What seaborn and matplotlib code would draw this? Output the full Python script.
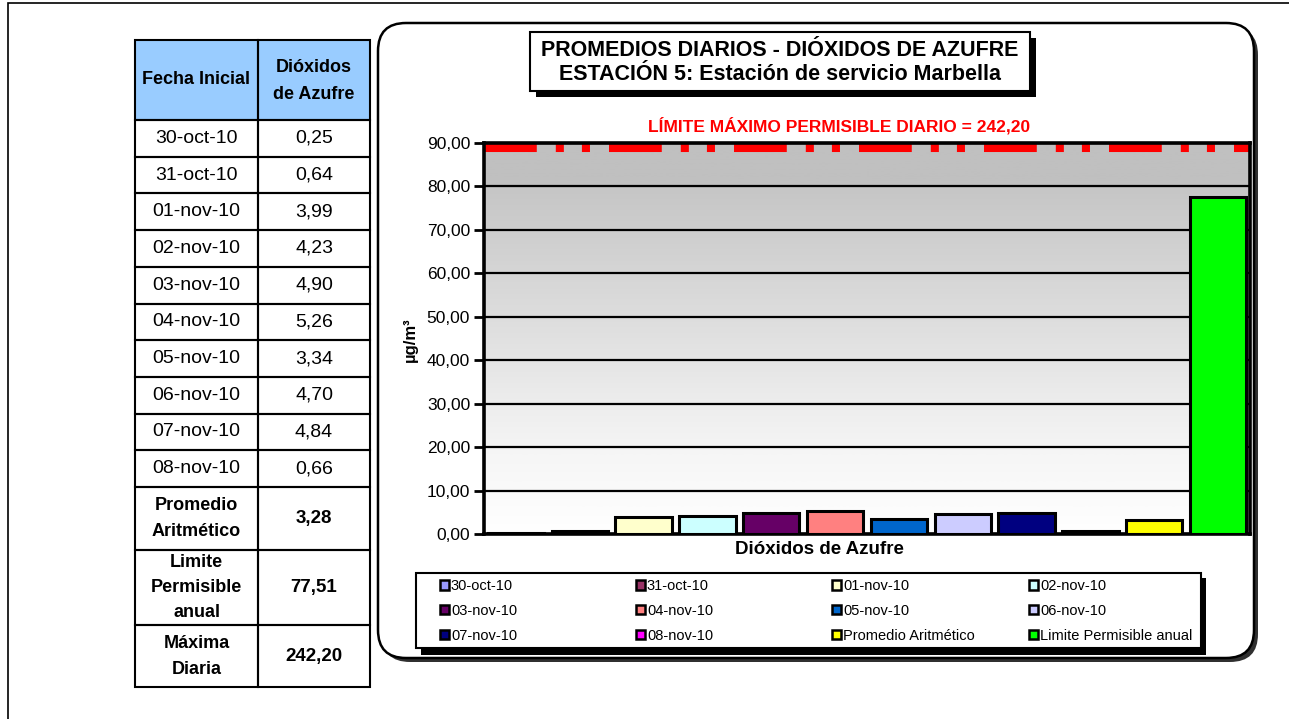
import numpy as np
import pandas as pd
import matplotlib.pyplot as plt
import seaborn as sns
from matplotlib.patches import Rectangle, FancyBboxPatch, Patch
from matplotlib.transforms import Affine2D
from matplotlib.colors import LinearSegmentedColormap

fechas = ['30-oct-10', '31-oct-10', '01-nov-10', '02-nov-10', '03-nov-10',
          '04-nov-10', '05-nov-10', '06-nov-10', '07-nov-10', '08-nov-10']
dioxidos = [0.25, 0.64, 3.99, 4.23, 4.90, 5.26, 3.34, 4.70, 4.84, 0.66]
promedio = 3.28
limite_anual = 77.51
maxima_diaria = 242.20

series = fechas + ['Promedio Aritmético', 'Limite Permisible anual']
valores = dioxidos + [promedio, limite_anual]
colores = ['#9999FF', '#993366', '#FFFFCC', '#CCFFFF', '#660066', '#FF8080',
           '#0066CC', '#CCCCFF', '#000080', '#FF00FF', '#FFFF00', '#00FF00']
yticks = list(range(0, 91, 10))


def coma(v):
    return f'{v:.2f}'.replace('.', ',')


sns.set_style('white')
plt.rcParams['font.family'] = ['Liberation Sans', 'DejaVu Sans']
plt.rcParams['lines.scale_dashes'] = False
plt.rcParams['text.color'] = 'black'
plt.rcParams['ytick.color'] = 'black'
plt.rcParams['ytick.labelcolor'] = 'black'

W, H = 1289, 719
fig = plt.figure(figsize=(W / 100, H / 100), dpi=100)
px = Affine2D().scale(1 / 100) + fig.dpi_scale_trans  # pixeles desde abajo-izquierda


def caja(x0, y0, x1, y1, **kw):
    fig.add_artist(Rectangle((x0, H - y1), x1 - x0, y1 - y0, transform=px, **kw))


def texto(x, y, s, **kw):
    kw.setdefault('ha', 'center')
    kw.setdefault('va', 'center')
    fig.text(x, H - y, s, transform=px, **kw)


def lineas(x, y, partes, paso, **kw):
    y0 = y - paso * (len(partes) - 1) / 2
    for i, p in enumerate(partes):
        texto(x, y0 + i * paso, p, **kw)


# marco exterior
caja(8, 3, 1310, 740, fill=False, edgecolor='black', lw=1.2, zorder=-3)

# panel redondeado del gráfico con sombra
fig.add_artist(FancyBboxPatch((382, H - 662), 876, 635,
                              boxstyle='round,pad=0,rounding_size=28', zorder=-2,
                              transform=px, facecolor='#303030', edgecolor='none'))
fig.add_artist(FancyBboxPatch((378, H - 658), 876, 635,
                              boxstyle='round,pad=0,rounding_size=28', zorder=-1,
                              transform=px, facecolor='white', edgecolor='black', lw=1.8))

# ---- tabla ----
cx1, cx2, cx3 = 135, 258, 370
filas = [40, 120] + [120 + 36.7 * (i + 1) for i in range(10)] + [550, 625, 687]
caja(cx1, 40, cx3, 120, facecolor='#99CCFF', edgecolor='none')
for y0, y1 in zip(filas[:-1], filas[1:]):
    caja(cx1, y0, cx2, y1, fill=False, edgecolor='black', lw=1.5)
    caja(cx2, y0, cx3, y1, fill=False, edgecolor='black', lw=1.5)
m1, m2 = (cx1 + cx2) / 2, (cx2 + cx3) / 2
texto(m1, 80, 'Fecha Inicial', fontsize=13, fontweight='bold')
lineas(m2, 81, ['Dióxidos', 'de Azufre'], 27, fontsize=13, fontweight='bold')
for i, (f, v) in enumerate(zip(fechas, dioxidos)):
    yc = (filas[i + 1] + filas[i + 2]) / 2
    texto(m1, yc, f, fontsize=14)
    texto(m2, yc, coma(v), fontsize=14)
extras = [(['Promedio', 'Aritmético'], promedio, 27),
          (['Limite', 'Permisible', 'anual'], limite_anual, 25),
          (['Máxima', 'Diaria'], maxima_diaria, 26)]
for j, (partes, v, paso) in enumerate(extras):
    yc = (filas[11 + j] + filas[12 + j]) / 2
    lineas(m1, yc, partes, paso, fontsize=13, fontweight='bold')
    texto(m2, yc, coma(v), fontsize=13.5, fontweight='bold')

# ---- gráfico ----
ax = fig.add_axes([484 / W, 1 - 534 / H, 766 / W, 391 / H])
ax.set_facecolor('none')
grad = LinearSegmentedColormap.from_list(
    'fondo', [(0, '#C0C0C0'), (0.111, '#C0C0C0'), (0.113, '#C6C6C6'),
              (0.8, '#F6F6F6'), (1, '#FFFFFF')])
ax.imshow(np.linspace(0, 1, 400).reshape(-1, 1), cmap=grad, aspect='auto',
          extent=[-0.5, len(series) - 0.5, 0, 90], origin='upper', zorder=0)

df = pd.DataFrame({'serie': series, 'valor': valores})
sns.barplot(data=df, x='serie', y='valor', hue='serie', palette=colores,
            legend=False, width=0.88, edgecolor='black', linewidth=2.2,
            saturation=1, errorbar=None, ax=ax, zorder=3)

ax.set_xlim(-0.5, len(series) - 0.5)
ax.set_ylim(0, 90)
ax.set_yticks(yticks)
ax.set_yticklabels([coma(v) for v in yticks])
ax.set_xticks([])
ax.set_xlabel('')
ax.set_ylabel('')
ax.yaxis.grid(True, color='black', lw=1.6, zorder=1)
ax.set_axisbelow(True)
ax.tick_params(axis='y', left=True, length=7, width=2, labelsize=12.5, pad=3,
               direction='out', color='black', labelcolor='black')
for s in ax.spines.values():
    s.set_visible(True)
    s.set_color('black')
    s.set_linewidth(2.6)

# límite máximo diario (fuera de escala: se recorta en el borde superior)
ax.axhline(min(maxima_diaria, ax.get_ylim()[1]), color='red', lw=13,
           dashes=(38, 13.7, 5.8, 13, 5.8, 13.7), zorder=2)

texto(410, 340, 'µg/m³', fontsize=12, fontweight='bold', rotation=90)
texto(819, 549, 'Dióxidos de Azufre', fontsize=13.5, fontweight='bold')
texto(839, 126, 'LÍMITE MÁXIMO PERMISIBLE DIARIO = ' + coma(maxima_diaria),
      fontsize=12.5, fontweight='bold', color='red')

# título con sombra
caja(536, 38, 1036, 97, facecolor='black', edgecolor='none')
caja(530, 32, 1030, 91, facecolor='white', edgecolor='black', lw=1.5)
texto(780, 50, 'PROMEDIOS DIARIOS - DIÓXIDOS DE AZUFRE', fontsize=15.5, fontweight='bold')
texto(780, 74, 'ESTACIÓN 5: Estación de servicio Marbella', fontsize=15.5, fontweight='bold')

# leyenda con sombra
caja(421, 578, 1206, 655, facecolor='black', edgecolor='none')
caja(416, 573, 1201, 648, facecolor='white', edgecolor='black', lw=1.5)
manijas = [Patch(facecolor=c, edgecolor='black', lw=1.8, label=s)
           for s, c in zip(series, colores)]
for k, x in enumerate([440, 636, 832, 1029]):
    fig.legend(handles=manijas[k::4], loc='center left',
               bbox_to_anchor=(x, H - 611), bbox_transform=px,
               frameon=False, borderpad=0, borderaxespad=0,
               handlelength=0.6, handleheight=0.6, handletextpad=0.15,
               labelspacing=0.75, fontsize=10.5)

fig.savefig('out.png', dpi=100)
